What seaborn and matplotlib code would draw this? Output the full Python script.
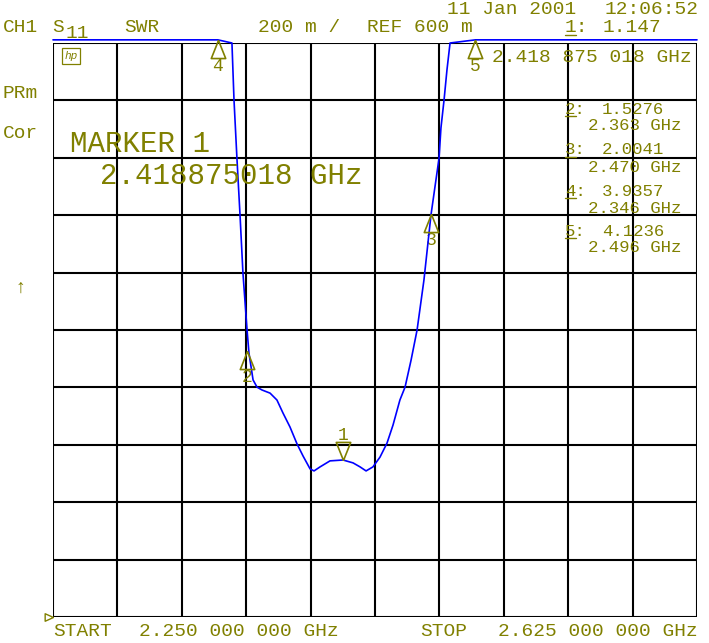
import numpy as np
import pandas as pd
import matplotlib.pyplot as plt
import seaborn as sns
from matplotlib.path import Path

# trace (SWR vs frequency, GHz)
freq = [2.250, 2.346, 2.3542, 2.3554, 2.3571, 2.3589, 2.3606, 2.3630, 2.3641,
        2.3665, 2.3688, 2.3717, 2.3764, 2.3804, 2.3839, 2.3880, 2.3921, 2.3956,
        2.3997, 2.4020, 2.4055, 2.4113, 2.4189, 2.4247, 2.4288, 2.4323, 2.4363,
        2.4404, 2.4445, 2.4480, 2.4520, 2.4550, 2.4585, 2.4620, 2.4660, 2.4701,
        2.4748, 2.4759, 2.4777, 2.4794, 2.4812, 2.496, 2.625]
swr = [3.94, 3.9357, 2.600, 2.401, 2.199, 2.001, 1.799, 1.600, 1.520,
       1.426, 1.401, 1.391, 1.380, 1.356, 1.311, 1.262, 1.203, 1.161,
       1.116, 1.109, 1.123, 1.144, 1.147, 1.137, 1.123, 1.109, 1.123,
       1.157, 1.206, 1.269, 1.356, 1.401, 1.495, 1.600, 1.774, 2.001,
       2.199, 2.304, 2.401, 2.506, 2.600, 4.1236, 4.12]

marker_num = [1, 2, 3, 4, 5]
marker_freq = [2.418875018, 2.363, 2.470, 2.346, 2.496]
marker_swr = [1.147, 1.5276, 2.0041, 3.9357, 4.1236]

start_ghz, stop_ghz = 2.250, 2.625
ref_val, per_div = 0.6, 0.2

olive = '#808000'
W, H = 709, 643

sns.set_style('white')
plt.rcParams['font.family'] = ['Liberation Mono', 'DejaVu Sans Mono']

fig = plt.figure(figsize=(W / 100, H / 100), dpi=100)
ax = fig.add_axes([53 / W, (H - 617) / H, 644 / W, 574 / H])

top = ref_val + 10 * per_div
clip_top = top + 0.011
df = pd.DataFrame({'freq': freq, 'swr': np.minimum(swr, clip_top)})
sns.lineplot(data=df, x='freq', y='swr', color='#0000ff', lw=1.2, ax=ax,
             clip_on=False, zorder=5)

ax.set_xlim(start_ghz, stop_ghz)
ax.set_ylim(ref_val, top)
ax.set_xticks(np.linspace(start_ghz, stop_ghz, 11))
ax.set_yticks(np.linspace(ref_val, top, 11))
ax.grid(True, color='black', lw=1.5)
ax.tick_params(length=0, labelbottom=False, labelleft=False)
ax.set_xlabel('')
ax.set_ylabel('')
for sp in ax.spines.values():
    sp.set_visible(False)

# marker triangles (apex on the trace)
up_tri = Path([(0, 0), (-0.4, -1), (0.4, -1), (0, 0)])
down_tri = Path([(0, 0), (-0.4, 1), (0.4, 1), (0, 0)])
for n, f, v in zip(marker_num, marker_freq, marker_swr):
    y = min(v, clip_top)
    if n == 1:
        shape, dy = down_tri, 18
    else:
        shape, dy = up_tri, -19
    ax.plot(f, y, marker=shape, ms=26, mfc='none', mec=olive, mew=1.2,
            clip_on=False, zorder=6)
    ax.annotate(str(n), (f, y), xytext=(0, dy), textcoords='offset points',
                ha='center', va='center', color=olive, fontsize=13,
                annotation_clip=False)

# reference position marker
ref_tri = Path([(0, 0), (-1, 0.45), (-1, -0.45), (0, 0)])
ax.plot(start_ghz, ref_val, marker=ref_tri, ms=12, mfc='none', mec=olive,
        mew=1, clip_on=False)


def put(x, y, s, size=14, **kw):
    fig.text(x / W, 1 - y / H, s, ha='left', va='center', color=olive,
             fontsize=size, **kw)


def underline(x0, x1, y):
    fig.add_artist(plt.Line2D([x0 / W, x1 / W], [1 - y / H, 1 - y / H],
                              color=olive, lw=1, transform=fig.transFigure))


put(3, 28, 'CH1')
put(52, 28, 'S')
put(66, 34, '11')
put(124, 28, 'SWR')
put(258, 28, '200 m /')
put(367, 28, 'REF 600 m')
put(447, 9, '11 Jan 2001')
put(605, 9, '12:06:52')
put(565, 28, '1:')
underline(565, 576, 35)
put(603, 28, f'{marker_swr[0]:.3f}')
put(492, 57, '2.418 875 018 GHz')
put(3, 93, 'PRm')
put(3, 133, 'Cor')
put(14, 288, '↑')

rows = [109, 150, 191, 231]
for n, v, f, y in zip(marker_num[1:], marker_swr[1:], marker_freq[1:], rows):
    put(565, y, f'{n}:', size=12.5)
    underline(565, 576, y + 7)
    put(602, y, f'{v:.4f}', size=12.5)
    put(588, y + 17, f'{f:.3f} GHz', size=12.5)

put(70, 144, 'MARKER 1', size=21)
put(100, 176, '2.418875018 GHz', size=21)

put(53, 632, 'START')
put(139, 632, f'{start_ghz:.3f} 000 000 GHz')
put(420, 632, 'STOP')
put(498, 632, f'{stop_ghz:.3f} 000 000 GHz')

fig.text(71 / W, 1 - 56 / H, 'hp', ha='center', va='center', color=olive,
         fontsize=8, style='italic',
         bbox=dict(boxstyle='square,pad=0.25', fc='none', ec=olive, lw=0.9))

fig.savefig('out.png', dpi=100, facecolor='white')
